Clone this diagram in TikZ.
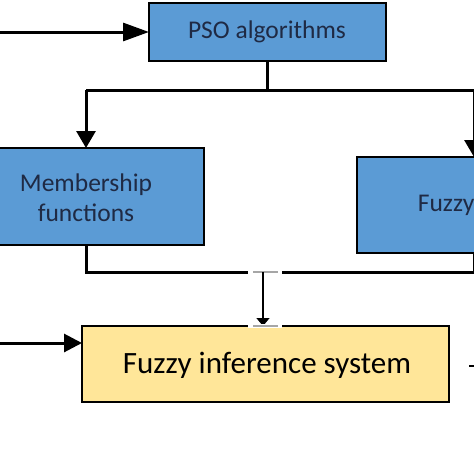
\documentclass[tikz,border=0pt]{standalone}
\usepackage{fontspec}
\setmainfont{Carlito}
\usetikzlibrary{arrows.meta}
\definecolor{boxblue}{HTML}{5B9BD5}
\definecolor{boxyellow}{HTML}{FFE699}
\definecolor{navytext}{HTML}{1F2A44}
\begin{document}
\begin{tikzpicture}[x=1pt,y=-1pt,
  bluebox/.style={draw=black,line width=2pt,fill=boxblue,text=navytext,inner sep=0pt},
  yellowbox/.style={draw=black,line width=2pt,fill=boxyellow,text=black,inner sep=0pt},
  thick line/.style={line width=3pt,draw=black},
  bigarrow/.style={thick line,-{Triangle[length=26pt,width=18pt]}},
  midarrow/.style={thick line,-{Triangle[length=17pt,width=19pt]}},
  thinarrow/.style={line width=1.5pt,draw=black,-{Triangle[length=8pt,width=13pt]}}
]
\useasboundingbox (0,0) rectangle (474,474);
\clip (0,0) rectangle (474,474);
\fill[white] (0,0) rectangle (474,474);
% boxes
\draw[bluebox] (149,3) rectangle (386,61);
\node[text=navytext,font=\fontsize{25.5}{30}\selectfont] (pso) at (267,32) {PSO algorithms};
\coordinate (psoL) at (149,32);
\coordinate (psoB) at (267,61);

\draw[bluebox] (-10,148) rectangle (204,245);
\node[text=navytext,font=\fontsize{25.5}{30}\selectfont,align=center] (mf) at (86,198) {Membership\\functions};
\coordinate (mfT) at (86,148);
\coordinate (mfB) at (86,245);

\draw[bluebox] (357,157) rectangle (520,253);
\node[text=navytext,font=\fontsize{25.5}{30}\selectfont,anchor=east] (fr) at (478,205) {Fuzzy};
\coordinate (frT) at (474,157);
\coordinate (frB) at (474,253);

\draw[yellowbox] (82,326) rectangle (449,402);
\node[font=\fontsize{31}{36}\selectfont] (fis) at (267,365) {Fuzzy inference system};
\coordinate (fisT) at (263,326);
\coordinate (fisL) at (82,343);

% connectors
\coordinate (inA) at (0,32);
\coordinate (inB) at (0,343);
\draw[bigarrow] (inA) -- (psoL);
\draw[thick line] (psoB) -- (267,90);
\draw[thick line] (86,90) -- (480,90);
\draw[midarrow] (86,90) -- (mfT);
\draw[midarrow] (474,90) -- (frT);
\draw[thick line] (mfB) -- (86,272) -- (474,272) -- (frB);
% bridge gap
\fill[white] (248,269) rectangle (282,275);
\draw[line width=2pt,draw=gray!70] (253,272) -- (278,272);
\coordinate (jn) at (263,272);
\draw[thinarrow] (jn) -- (fisT);
\fill[white] (248,324) rectangle (282,328);
\draw[line width=2pt,draw=gray!70] (253,326) -- (278,326);
\draw[midarrow,-{Triangle[length=18pt,width=18pt]}] (inB) -- (fisL);
\coordinate (outA) at (469,366);
\coordinate (outB) at (480,366);
\draw[line width=1.5pt] (outA) -- (outB);
\end{tikzpicture}
\end{document}
